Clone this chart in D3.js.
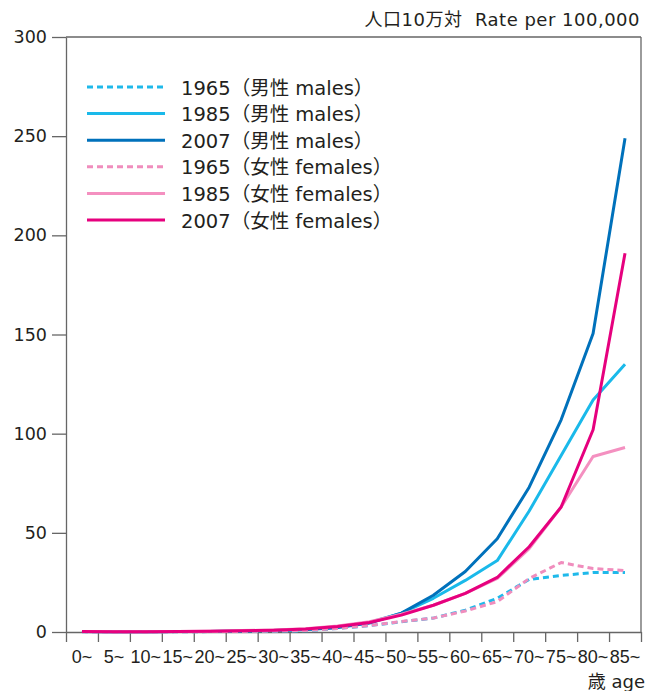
<!DOCTYPE html>
<html>
<head>
<meta charset="utf-8">
<script src="https://cdn.jsdelivr.net/npm/d3@7"></script>
<style>
  body { margin: 0; background: #fff; }
  svg { display: block; }
  .axis path, .axis line { stroke: #666; stroke-width: 1.3; }
  .axis text { fill: #231f20; }
</style>
</head>
<body>
<div id="chart"></div>
<script>
// Age groups (x categories)
const ages = ['0', '5', '10', '15', '20', '25', '30', '35', '40', '45', '50', '55', '60', '65', '70', '75', '80', '85'];
const yTicks = [0, 50, 100, 150, 200, 250, 300];

// Rates per 100,000
const male1965 = [0.1, 0.05, 0.05, 0.1, 0.2, 0.3, 0.4, 0.6, 1.8, 3.2, 5.2, 7, 11, 17, 26.5, 28.5, 30, 30];
const male1985 = [0.2, 0.1, 0.1, 0.2, 0.3, 0.5, 0.8, 1.3, 2.4, 4.8, 9.5, 17, 26, 36, 61, 89, 117, 135];
const male2007 = [0.2, 0.1, 0.1, 0.2, 0.3, 0.5, 0.7, 1.2, 2.2, 4.5, 9.5, 18.5, 30.5, 47, 73, 107, 150.5, 249];
const female1965 = [0.1, 0.05, 0.05, 0.1, 0.2, 0.3, 0.5, 0.8, 1.8, 3.3, 5.3, 7, 10.6, 15.3, 27, 35, 32, 31];
const female1985 = [0.2, 0.1, 0.1, 0.2, 0.4, 0.7, 1.0, 1.7, 3.0, 5.2, 9, 13.5, 19.5, 27, 42, 63, 88.5, 93];
const female2007 = [0.2, 0.1, 0.1, 0.2, 0.4, 0.6, 0.9, 1.5, 2.8, 4.8, 8.5, 13.5, 19.5, 27.5, 43, 63, 102, 191];

const legendLabels = [
    '1965（男性 males）',
    '1985（男性 males）',
    '2007（男性 males）',
    '1965（女性 females）',
    '1985（女性 females）',
    '2007（女性 females）'
];

const series = [
    { values: male1965, color: '#1fb9ea', dash: '6,4' },
    { values: male1985, color: '#1ab9ea', dash: null },
    { values: male2007, color: '#0071bb', dash: null },
    { values: female1965, color: '#f08dbd', dash: '6,4' },
    { values: female1985, color: '#f490c0', dash: null },
    { values: female2007, color: '#e6007e', dash: null }
].map((s, i) => ({ ...s, label: legendLabels[i] }));

const W = 661, H = 691;
const margin = { top: 37, right: 20, bottom: 59, left: 66 };
const plotW = W - margin.left - margin.right;
const plotH = H - margin.top - margin.bottom;

const svg = d3.select('#chart').append('svg')
    .attr('width', W)
    .attr('height', H);

const g = svg.append('g')
    .attr('transform', `translate(${margin.left},${margin.top})`);

const x = d3.scaleBand().domain(ages).range([0, plotW]);
const xEdge = d3.scaleLinear().domain([0, ages.length]).range([0, plotW]);
const y = d3.scaleLinear().domain([0, 300]).range([plotH, 0]);

// Frame: top and right borders
g.append('line')
    .attr('x1', 0).attr('x2', plotW)
    .attr('y1', y(300)).attr('y2', y(300))
    .attr('stroke', '#666').attr('stroke-width', 1.3);
g.append('line')
    .attr('x1', plotW).attr('x2', plotW)
    .attr('y1', y(300)).attr('y2', y(0))
    .attr('stroke', '#666').attr('stroke-width', 1.3);

// Y axis
g.append('g')
    .attr('class', 'axis')
    .call(d3.axisLeft(y).tickValues(yTicks).tickSize(14).tickPadding(5).tickSizeOuter(0))
    .selectAll('text')
    .attr('font-family', '"DejaVu Sans", sans-serif')
    .attr('font-size', '17.5px');

// X axis: boundary ticks
g.append('g')
    .attr('class', 'axis')
    .attr('transform', `translate(0,${plotH})`)
    .call(d3.axisBottom(xEdge).tickValues(d3.range(ages.length + 1)).tickSize(10).tickFormat('').tickSizeOuter(0));

// X axis: labels centred in each band
const xLabels = g.append('g')
    .attr('class', 'axis')
    .attr('transform', `translate(0,${plotH})`)
    .call(d3.axisBottom(x).tickSize(0).tickPadding(18).tickFormat(d => d + '~'));
xLabels.select('.domain').remove();
xLabels.selectAll('text')
    .attr('font-family', '"Liberation Sans", Arial, sans-serif')
    .attr('font-size', '18px');

// Lines
const line = d3.line()
    .x((d, i) => x(ages[i]) + x.bandwidth() / 2)
    .y(d => y(d));

g.selectAll('.series')
    .data(series)
    .enter()
    .append('path')
    .attr('class', 'series')
    .attr('d', d => line(d.values))
    .attr('fill', 'none')
    .attr('stroke', d => d.color)
    .attr('stroke-width', 3)
    .attr('stroke-dasharray', d => d.dash)
    .attr('stroke-linejoin', 'round');

// Legend
const legend = g.append('g')
    .attr('transform', 'translate(21, 50)');

const rows = legend.selectAll('.legend-row')
    .data(series)
    .enter()
    .append('g')
    .attr('class', 'legend-row')
    .attr('transform', (d, i) => `translate(0,${i * 26.6})`);

rows.append('line')
    .attr('x1', 0).attr('x2', 78)
    .attr('y1', 0).attr('y2', 0)
    .attr('stroke', d => d.color)
    .attr('stroke-width', 3)
    .attr('stroke-dasharray', d => d.dash);

rows.append('text')
    .attr('x', 94)
    .attr('y', 7.5)
    .attr('font-family', '"DejaVu Sans", "Noto Sans CJK JP", sans-serif')
    .attr('font-size', '19.5px')
    .attr('fill', '#231f20')
    .text(d => d.label);

// Unit title (top right)
svg.append('text')
    .attr('x', 640)
    .attr('y', 26)
    .attr('text-anchor', 'end')
    .attr('font-family', '"DejaVu Sans", "Noto Sans CJK JP", sans-serif')
    .attr('font-size', '18px')
    .attr('letter-spacing', '0.5px')
    .attr('fill', '#231f20')
    .text('人口10万対  Rate per 100,000')
    .style('white-space', 'pre');

// Age axis title (bottom right)
svg.append('text')
    .attr('x', 645)
    .attr('y', 688)
    .attr('text-anchor', 'end')
    .attr('font-family', '"DejaVu Sans", "Noto Sans CJK JP", sans-serif')
    .attr('font-size', '18px')
    .attr('fill', '#231f20')
    .text('歳 age');
</script>
</body>
</html>
